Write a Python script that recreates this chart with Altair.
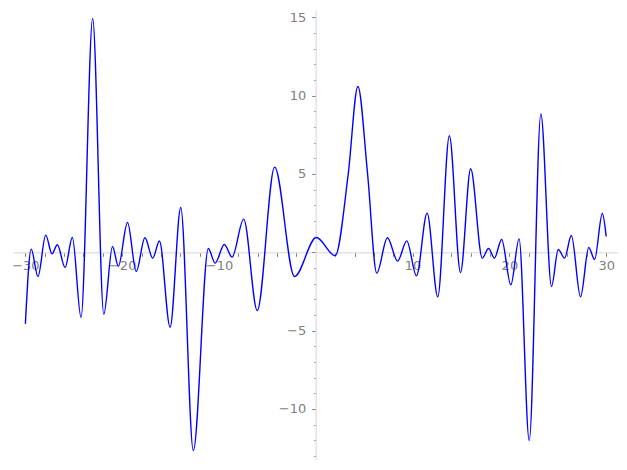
import altair as alt
import pandas as pd

# Curve extrema / shape points
xs = [-30.0, -29.4, -28.7, -27.9, -27.25, -26.7, -25.9, -25.15, -24.25, -23.05,
      -21.9, -21.0, -20.4, -19.45, -18.55, -17.65, -16.85, -16.15, -15.05, -13.95,
      -12.65, -11.1, -10.4, -9.45, -8.65, -7.45, -6.05, -4.25, -2.2, 0.05,
      2.0, 3.35, 4.35, 5.35, 6.3, 7.4, 8.45, 9.4, 10.4, 11.5,
      12.6, 13.8, 14.95, 16.0, 17.2, 17.85, 18.45, 19.2, 20.15, 21.0,
      22.05, 23.25, 24.35, 25.05, 25.7, 26.4, 27.35, 28.2, 28.8, 29.6, 30.0]
ys = [-4.57, 0.2, -1.55, 1.1, -0.1, 0.48, -0.97, 0.95, -4.16, 14.93,
      -3.95, 0.37, -0.9, 1.9, -1.22, 0.93, -0.37, 0.72, -4.78, 2.86,
      -12.66, 0.24, -0.69, 0.5, -0.31, 2.12, -3.72, 5.44, -1.54, 0.95,
      -0.22, 5.0, 10.59, 5.0, -1.33, 0.93, -0.56, 0.73, -1.5, 2.5,
      -2.84, 7.44, -1.29, 5.33, -0.37, 0.24, -0.37, 0.82, -2.08, 0.86,
      -12.02, 8.83, -2.18, 0.18, -0.37, 1.07, -2.84, 0.31, -0.46, 2.48, 1.01]

x_ticks = list(range(-30, 31, 2))
y_ticks = list(range(-13, 16, 1))

df = pd.DataFrame({"x": xs, "y": ys})

W, H = 605, 450
x_dom = [-31.28, 31.22]
y_dom = [-13.26, 15.47]
x0_px = (0 - x_dom[0]) / (x_dom[1] - x_dom[0]) * W
y0_px = (y_dom[1] - 0) / (y_dom[1] - y_dom[0]) * H

axis_common = dict(
    grid=False,
    domainColor="#e3e3e3",
    domainWidth=1.6,
    tickColor="#808080",
    tickWidth=1,
    labelColor="#808080",
    labelFont="DejaVu Sans",
    labelFontSize=13,
    title=None,
)

chart = alt.Chart(df).mark_line(
    color="#0000ff", strokeWidth=1.4, interpolate="monotone", clip=True
).encode(
    x=alt.X("x:Q", scale=alt.Scale(domain=x_dom, nice=False, zero=False),
            axis=alt.Axis(
                orient="bottom", offset=-(H - y0_px), values=x_ticks,
                tickSize=4, labelPadding=3,
                labelExpr="(datum.value % 10 == 0 && datum.value != 0) ? datum.label : ''",
                **axis_common)),
    y=alt.Y("y:Q", scale=alt.Scale(domain=y_dom, nice=False, zero=False),
            axis=alt.Axis(
                orient="left", offset=-x0_px, values=y_ticks,
                tickSize={"condition": {"test": "datum.value % 5 == 0", "value": 4}, "value": 2},
                labelPadding=6,
                labelExpr="(datum.value % 5 == 0 && datum.value != 0) ? datum.label : ''",
                **axis_common)),
).properties(
    width=W, height=H,
    autosize=alt.AutoSizeParams(type="none"),
    padding={"left": 5, "top": 2, "right": 0, "bottom": 0},
).configure_view(stroke=None)

chart.save("out.html", embed_options={"renderer": "svg", "actions": False})
